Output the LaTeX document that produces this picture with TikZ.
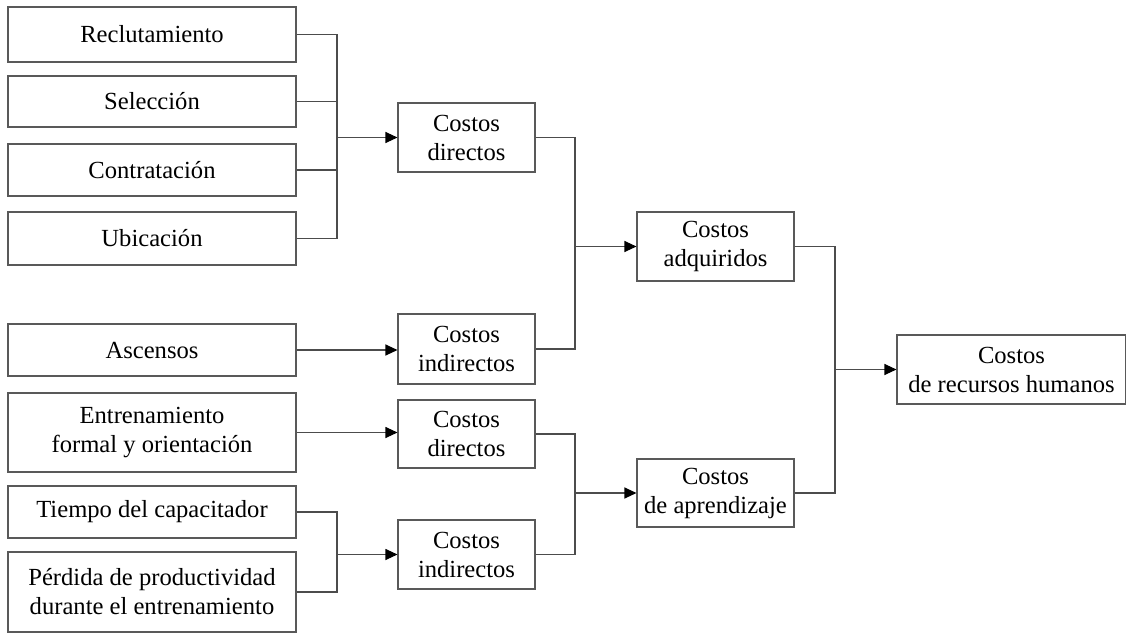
\documentclass[tikz,border=0pt]{standalone}
\usepackage{fontspec}
\setmainfont{Liberation Serif}
\usetikzlibrary{arrows.meta}
\begin{document}
\begin{tikzpicture}[x=1pt,y=-1pt,
  box/.style={draw=black!65,line width=1.1pt,inner sep=0pt,align=center,
    font=\fontsize{24.6}{29}\selectfont},
  conn/.style={draw=black!70,line width=1.1pt},
  arr/.style={conn,-{Triangle[length=12pt,width=11pt,color=black]}}]
\useasboundingbox (0,0) rectangle (1126,632);
% left column
\node[box,minimum width=288,minimum height=55] (rec) at (152,34.5) {Reclutamiento};
\node[box,minimum width=288,minimum height=51] (sel) at (152,101.5) {Selección};
\node[box,minimum width=288,minimum height=52] (con) at (152,170) {Contratación};
\node[box,minimum width=288,minimum height=53] (ubi) at (152,238.5) {Ubicación};
\node[box,minimum width=288,minimum height=52] (asc) at (152,350) {Ascensos};
\node[box,minimum width=288,minimum height=79] (ent) at (152,432.5) {Entrenamiento\\formal y orientación};
\node[box,minimum width=288,minimum height=52] (tie) at (152,512) {Tiempo del capacitador};
\node[box,minimum width=288,minimum height=80] (per) at (152,592) {Pérdida de productividad\\durante el entrenamiento};
% middle column
\node[box,minimum width=137,minimum height=69] (cd1) at (466.5,137.5) {Costos\\directos};
\node[box,minimum width=137,minimum height=70] (ci1) at (466.5,349) {Costos\\indirectos};
\node[box,minimum width=137,minimum height=68] (cd2) at (466.5,434) {Costos\\directos};
\node[box,minimum width=137,minimum height=69] (ci2) at (466.5,554.5) {Costos\\indirectos};
% right-middle column
\node[box,minimum width=157,minimum height=69] (adq) at (715.5,246.5) {Costos\\adquiridos};
\node[box,minimum width=157,minimum height=68] (apr) at (715.5,493) {Costos\\de aprendizaje};
% final
\node[box,minimum width=229,minimum height=69] (rrhh) at (1011.5,369.5) {Costos\\de recursos humanos};
% junctions
\coordinate (j1) at (337,137.5);
\coordinate (j2) at (575,246.5);
\coordinate (j3) at (337,554.5);
\coordinate (j4) at (575,493);
\coordinate (j5) at (835,369.5);
% connectors
\draw[conn] (rec.east) -| (j1);
\draw[conn] (sel.east) -| (j1);
\draw[conn] (con.east) -| (j1);
\draw[conn] (ubi.east) -| (j1);
\draw[arr] (j1) -- (cd1.west);
\draw[arr] (asc.east) -- (asc.east -| ci1.west);
\draw[conn] (cd1.east) -| (j2);
\draw[conn] (ci1.east) -| (j2);
\draw[arr] (j2) -- (adq.west);
\draw[arr] (ent.east) -- (ent.east -| cd2.west);
\draw[conn] (tie.east) -| (j3);
\draw[conn] (per.east) -| (j3);
\draw[arr] (j3) -- (ci2.west);
\draw[conn] (cd2.east) -| (j4);
\draw[conn] (ci2.east) -| (j4);
\draw[arr] (j4) -- (apr.west);
\draw[conn] (adq.east) -| (j5);
\draw[conn] (apr.east) -| (j5);
\draw[arr] (j5) -- (rrhh.west);
\end{tikzpicture}
\end{document}
